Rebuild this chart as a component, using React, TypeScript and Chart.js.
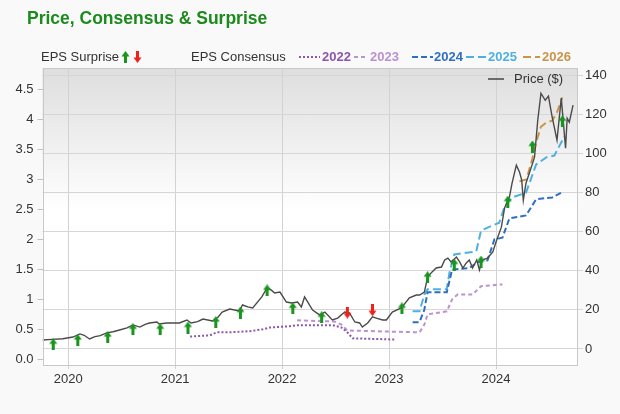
import React, { useEffect, useRef } from 'react';
import { Chart, registerables } from 'chart.js';
Chart.register(...registerables);

const FONT = '"Liberation Sans", Arial, sans-serif';

const yearTicks = [2020, 2021, 2022, 2023, 2024];
const epsTicks = [0, 0.5, 1, 1.5, 2, 2.5, 3, 3.5, 4, 4.5];
const priceTicks = [0, 20, 40, 60, 80, 100, 120, 140];

const priceDates = [
  2019.76, 2019.85, 2019.95, 2020.045, 2020.11, 2020.15, 2020.2, 2020.25, 2020.3, 2020.36,
  2020.42, 2020.48, 2020.55, 2020.605, 2020.67, 2020.72, 2020.76, 2020.83, 2020.85, 2020.92,
  2020.98, 2021.04, 2021.11, 2021.15, 2021.21, 2021.26, 2021.35, 2021.4, 2021.44, 2021.51,
  2021.6, 2021.63, 2021.68, 2021.725, 2021.81, 2021.86, 2021.9, 2021.93, 2021.98, 2022.04,
  2022.09, 2022.145, 2022.18, 2022.21, 2022.24, 2022.285, 2022.35, 2022.4, 2022.47, 2022.52,
  2022.585, 2022.63, 2022.68, 2022.725, 2022.75, 2022.8, 2022.845, 2022.88, 2022.94, 2022.975,
  2023.03, 2023.115, 2023.19, 2023.255, 2023.285, 2023.33, 2023.36, 2023.4, 2023.44, 2023.49,
  2023.52, 2023.55, 2023.58, 2023.63, 2023.66, 2023.69, 2023.72, 2023.75, 2023.78, 2023.82,
  2023.845, 2023.87, 2023.92, 2023.97, 2024.0, 2024.05, 2024.08, 2024.125, 2024.15, 2024.19,
  2024.22, 2024.24, 2024.255, 2024.28, 2024.33, 2024.36, 2024.39, 2024.42, 2024.46, 2024.49,
  2024.525, 2024.57, 2024.61, 2024.63, 2024.65, 2024.665, 2024.685, 2024.72,
];
const priceValues = [
  4.6, 4.9, 5.2, 6.1, 7.7, 7.0, 5.1, 6.3, 6.8, 8.2,
  8.8, 9.7, 10.8, 12.3, 11.2, 12.6, 13.3, 13.8, 12.8, 13.3,
  13.3, 13.3, 14.8, 13.3, 14.0, 15.3, 14.3, 16.2, 18.9, 20.4,
  19.4, 22.5, 21.5, 21.0, 26.6, 31.2, 30.1, 28.6, 29.1, 24.0,
  23.5, 24.0, 21.5, 26.6, 24.0, 19.9, 17.4, 18.9, 14.8, 15.8,
  18.9, 18.4, 13.8, 13.3, 11.2, 13.3, 16.4, 15.8, 14.8, 14.8,
  18.9, 21.0, 26.1, 27.6, 27.6, 29.1, 36.8, 39.3, 41.4, 41.9,
  45.5, 46.5, 44.5, 47.0, 44.5, 41.4, 43.9, 45.5, 41.4, 45.5,
  40.4, 45.5, 46.5, 49.6, 54.7, 62.3, 72.1, 77.7, 84.8, 94.0,
  90.4, 86.4, 76.1, 84.8, 93.0, 98.1, 117.0, 130.8, 127.2, 129.3,
  118.6, 106.8, 128.3, 115.5, 102.7, 118.0, 116.0, 124.7,
];

const cons2022Dates = [2021.14, 2021.325, 2021.39, 2021.51, 2021.7, 2021.82, 2021.885, 2022.07, 2022.14, 2022.47, 2022.555, 2022.61, 2022.66, 2023.05];
const cons2022Values = [0.38, 0.4, 0.45, 0.45, 0.47, 0.5, 0.53, 0.55, 0.57, 0.57, 0.53, 0.45, 0.35, 0.33];

const cons2023Dates = [2022.14, 2022.49, 2022.555, 2022.61, 2023.285, 2023.33, 2023.36, 2023.54, 2023.59, 2023.64, 2023.78, 2023.86, 2024.06];
const cons2023Values = [0.65, 0.63, 0.58, 0.48, 0.45, 0.58, 0.75, 0.8, 1.0, 1.08, 1.08, 1.22, 1.25];

const cons2024Dates = [2023.22, 2023.285, 2023.33, 2023.36, 2023.54, 2023.59, 2023.75, 2023.825, 2023.92, 2023.985, 2024.06, 2024.125, 2024.28, 2024.375, 2024.525, 2024.63];
const cons2024Values = [0.62, 0.62, 0.83, 1.12, 1.12, 1.5, 1.52, 1.62, 1.65, 2.0, 2.03, 2.35, 2.4, 2.67, 2.7, 2.8];

const cons2025Dates = [2023.22, 2023.285, 2023.33, 2023.36, 2023.54, 2023.565, 2023.61, 2023.815, 2023.86, 2024.03, 2024.08, 2024.15, 2024.28, 2024.375, 2024.47, 2024.545, 2024.64];
const cons2025Values = [0.8, 0.8, 1.08, 1.17, 1.17, 1.45, 1.75, 1.8, 2.15, 2.28, 2.55, 2.7, 2.78, 3.25, 3.37, 3.4, 3.72];

const cons2026Dates = [2024.22, 2024.285, 2024.34, 2024.375, 2024.42, 2024.47, 2024.525, 2024.57, 2024.62];
const cons2026Values = [2.97, 3.0, 3.35, 3.62, 3.88, 3.95, 3.98, 4.12, 4.37];

const surpriseDates = [2019.86, 2020.09, 2020.37, 2020.605, 2020.86, 2021.12, 2021.38, 2021.61, 2021.86, 2022.1, 2022.37, 2022.61, 2022.845, 2023.12, 2023.36, 2023.61, 2023.86, 2024.11, 2024.34, 2024.62];
const surpriseValues = [0.25, 0.32, 0.37, 0.5, 0.5, 0.53, 0.62, 0.78, 1.15, 0.85, 0.7, 0.78, 0.82, 0.85, 1.37, 1.58, 1.63, 2.63, 3.55, 3.97];
const surpriseBeat = [true, true, true, true, true, true, true, true, true, true, true, false, false, true, true, true, true, true, true, true];

const consensusSeries = [
  { label: '2022', dates: cons2022Dates, values: cons2022Values, color: '#8c56ad', dash: [2, 2] },
  { label: '2023', dates: cons2023Dates, values: cons2023Values, color: '#b992cf', dash: [4, 3] },
  { label: '2024', dates: cons2024Dates, values: cons2024Values, color: '#2f6fbf', dash: [6, 3] },
  { label: '2025', dates: cons2025Dates, values: cons2025Values, color: '#4fb0e0', dash: [8, 4] },
  { label: '2026', dates: cons2026Dates, values: cons2026Values, color: '#c9954a', dash: [8, 4] },
];

const UP_COLOR = '#17951c';
const DOWN_COLOR = '#f0201a';

function makeArrow(color: string, up: boolean) {
  const c = document.createElement('canvas');
  c.width = 9;
  c.height = 12;
  const g = c.getContext('2d')!;
  g.fillStyle = color;
  g.beginPath();
  if (up) {
    g.moveTo(0.5, 5.5);
    g.lineTo(4.5, 0);
    g.lineTo(8.5, 5.5);
    g.closePath();
    g.fill();
    g.fillRect(3, 5, 3, 7);
  } else {
    g.moveTo(0.5, 6.5);
    g.lineTo(4.5, 12);
    g.lineTo(8.5, 6.5);
    g.closePath();
    g.fill();
    g.fillRect(3, 0, 3, 7);
  }
  return c;
}

export default function App() {
  const ref = useRef<HTMLCanvasElement>(null);
  useEffect(() => {
    const upImg = makeArrow(UP_COLOR, true);
    const downImg = makeArrow(DOWN_COLOR, false);

    const decor = {
      id: 'decor',
      beforeDraw(chart: any) {
        const { ctx, chartArea: a } = chart;
        ctx.save();
        ctx.fillStyle = '#f9f9f9';
        ctx.fillRect(0, 0, chart.width, chart.height);
        const g = ctx.createLinearGradient(0, a.top, 0, a.bottom);
        g.addColorStop(0, '#dedede');
        g.addColorStop(0.48, '#ffffff');
        g.addColorStop(1, '#ffffff');
        ctx.fillStyle = g;
        ctx.fillRect(a.left, a.top, a.right - a.left, a.bottom - a.top);
        ctx.restore();
      },
      afterDraw(chart: any) {
        const { ctx, chartArea: a } = chart;
        ctx.save();
        ctx.strokeStyle = '#c8c8c8';
        ctx.lineWidth = 1;
        ctx.strokeRect(Math.round(a.left) + 0.5, Math.round(a.top) + 0.5, Math.round(a.right - a.left) - 1, Math.round(a.bottom - a.top));

        // title
        ctx.fillStyle = '#1d8a1d';
        ctx.font = 'bold 17.5px ' + FONT;
        ctx.textBaseline = 'middle';
        ctx.textAlign = 'left';
        ctx.fillText('Price, Consensus & Surprise', 27, 19);

        // legend row
        ctx.font = '13px ' + FONT;
        ctx.fillStyle = '#333';
        ctx.fillText('EPS Surprise', 41, 57);
        ctx.drawImage(upImg, 121, 51);
        ctx.drawImage(downImg, 133, 51);
        ctx.fillStyle = '#333';
        ctx.fillText('EPS Consensus', 191, 57);
        const legendPos = [
          [299, 320, 322],
          [354, 368, 370],
          [412, 433, 434],
          [466, 487, 488],
          [523, 540, 542],
        ];
        consensusSeries.forEach((s, i) => {
          const [x0, x1, tx] = legendPos[i];
          ctx.strokeStyle = s.color;
          ctx.lineWidth = 2;
          ctx.setLineDash(s.dash);
          ctx.beginPath();
          ctx.moveTo(x0, 57);
          ctx.lineTo(x1, 57);
          ctx.stroke();
          ctx.setLineDash([]);
          ctx.fillStyle = s.color;
          ctx.font = 'bold 13px ' + FONT;
          ctx.fillText(s.label, tx, 57);
        });

        // price legend
        ctx.strokeStyle = '#444';
        ctx.lineWidth = 1.5;
        ctx.beginPath();
        ctx.moveTo(488, 79);
        ctx.lineTo(504, 79);
        ctx.stroke();
        ctx.fillStyle = '#333';
        ctx.font = '13px ' + FONT;
        ctx.fillText('Price ($)', 514, 79);
        ctx.restore();
      },
    };

    const tickFont = { family: FONT, size: 13 };

    const datasets: any[] = [
      {
        label: 'EPS Surprise',
        type: 'scatter',
        yAxisID: 'yL',
        data: surpriseDates.map((d, i) => ({ x: d, y: surpriseValues[i] })),
        pointStyle: (c: any) => (surpriseBeat[c.dataIndex] ? upImg : downImg),
        pointRadius: 5,
        showLine: false,
        order: 0,
      },
      {
        label: 'Price ($)',
        type: 'line',
        yAxisID: 'yR',
        data: priceDates.map((d, i) => ({ x: d, y: priceValues[i] })),
        borderColor: '#4a4a4a',
        borderWidth: 1.4,
        pointRadius: 0,
        tension: 0,
        order: 1,
      },
      ...consensusSeries.map((s, k) => ({
        label: s.label,
        type: 'line',
        yAxisID: 'yL',
        data: s.dates.map((d, i) => ({ x: d, y: s.values[i] })),
        borderColor: s.color,
        borderWidth: 2,
        borderDash: s.dash,
        pointRadius: 0,
        tension: 0,
        order: 2 + k,
      })),
    ];

    const chart = new Chart(ref.current!, {
      type: 'line',
      data: { datasets },
      plugins: [decor],
      options: {
        animation: false,
        responsive: false,
        layout: { padding: { top: 68, left: 0, right: 0, bottom: 0 } },
        plugins: { legend: { display: false }, title: { display: false }, tooltip: { enabled: false } },
        scales: {
          x: {
            type: 'linear',
            min: 2019.76,
            max: 2024.757,
            afterBuildTicks: (s: any) => {
              s.ticks = yearTicks.map((v) => ({ value: v }));
            },
            afterFit: (s: any) => {
              s.height = 49;
            },
            ticks: { callback: (v: any) => String(v), color: '#333', font: tickFont, padding: 3, maxRotation: 0, autoSkip: false },
            grid: { color: '#d2d2d2', tickLength: 4 },
            border: { display: false },
          },
          yL: {
            type: 'linear',
            position: 'left',
            min: -0.095,
            max: 4.86,
            afterBuildTicks: (s: any) => {
              s.ticks = epsTicks.map((v) => ({ value: v }));
            },
            afterFit: (s: any) => {
              s.width = 42.5;
            },
            ticks: { callback: (v: any) => (v === 0 ? '0.0' : String(v)), color: '#333', font: tickFont, padding: 4 },
            grid: { drawOnChartArea: false, tickLength: 5, color: '#c0c0c0' },
            border: { display: false },
          },
          yR: {
            type: 'linear',
            position: 'right',
            min: -8.2,
            max: 143.7,
            afterBuildTicks: (s: any) => {
              s.ticks = priceTicks.map((v) => ({ value: v }));
            },
            afterFit: (s: any) => {
              s.width = 43;
            },
            ticks: { callback: (v: any) => String(v), color: '#333', font: tickFont, padding: 2 },
            grid: { color: '#d6d6d6', tickLength: 6 },
            border: { display: false },
          },
        },
      } as any,
    });
    return () => chart.destroy();
  }, []);

  return (
    <div style={{ position: 'absolute', left: 0, top: 0, width: 620, height: 414, background: '#f9f9f9' }}>
      <canvas ref={ref} width={620} height={414} style={{ display: 'block', width: 620, height: 414 }} />
    </div>
  );
}
